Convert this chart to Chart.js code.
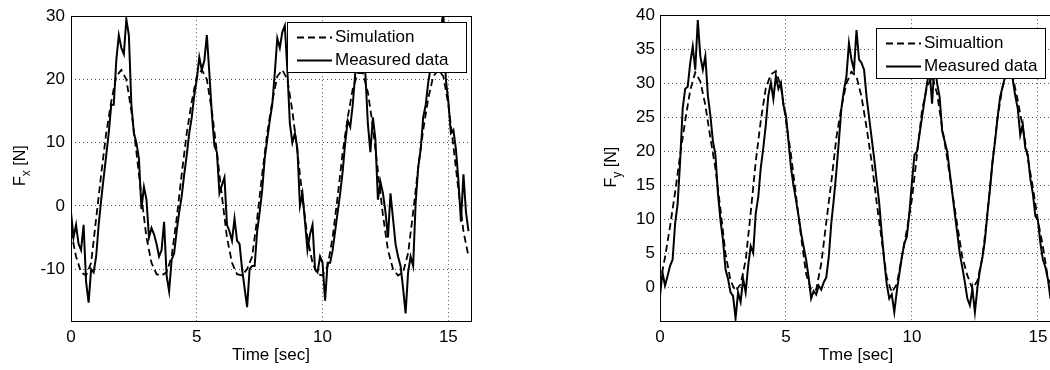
<!DOCTYPE html>
<html>
<head>
<meta charset="utf-8">
<script src="https://cdn.jsdelivr.net/npm/chart.js@4.4.0/dist/chart.umd.min.js"></script>
<style>
  html, body { margin: 0; padding: 0; background: #fff; overflow: hidden; }
  body { width: 1050px; height: 370px; position: relative; }
  .panel { position: absolute; top: 0; }
  #left { left: 0; }
  #right { left: 590px; }
</style>
</head>
<body>
<div class="panel" id="left"><canvas id="fx" width="490" height="370"></canvas></div>
<div class="panel" id="right"><canvas id="fy" width="480" height="370"></canvas></div>
<script>
// ─── data ──────────────────────────────────────
const simStep = 0.2;   // sec between simulation samples
const measStep = 0.1;  // sec between measured samples

const xTicks = [0, 5, 10, 15];
const fxTicks = [-10, 0, 10, 20, 30];
const fyTicks = [0, 5, 10, 15, 20, 25, 30, 35, 40];

const fxSim = [
  -4, -8, -10.5, -11, -9, -2, 5, 11.5, 16.5, 20.5,
  21.5, 20, 15, 8.5, 1.5, -5, -9, -10.8, -11, -10.5,
  -8, -2, 5, 11.5, 16.5, 20.5, 21.5, 20, 15, 8.5,
  1.5, -5, -9, -10.8, -11, -10, -8, -2, 5, 11.5,
  16.5, 20.5, 21.5, 20, 15, 8.5, 1.5, -5, -9, -10.8,
  -11, -9.5, -5, 1.5, 8.5, 14, 18.5, 21, 21, 18,
  12.5, 5.5, -1.5, -7, -10, -11, -10.5, -7.5, -1, 6,
  12, 17, 20.5, 21.5, 20.5, 16, 9.5, 2.5, -4, -8
];

const fxMeas = [
  -1, -5, -3, -6, -7, -3, -12, -15.3, -10, -10.5,
  -8, -3, 1, 4.5, 8, 11.5, 16, 16, 23, 27,
  25, 24, 29.5, 27, 16, 11.5, 10, 7.5, -0.5, 3,
  1, -5, -3.5, -4.5, -6, -8, -7, -2.5, -11, -13.5,
  -8.5, -7.5, -4, -1, 1.5, 5, 8, 11.5, 14, 17.5,
  20, 23.5, 21.5, 23, 27, 21, 14.5, 9.5, 8.5, 2,
  3.3, 4.5, -3, -4, -5.5, -2, -5.5, -6, -10, -13,
  -16, -10, -9.5, -9.5, -4, -1, 2.5, 7.5, 10.5, 13.5,
  16, 21, 26.5, 25, 27.5, 28.5, 21.5, 13, 10, 11.5,
  9, 0, 2, -2.5, -7, -4.5, -3, -10, -10.5, -8,
  -9, -15, -9, -9, -7, -4, -1, 2, 5.5, 10,
  13.5, 12.5, 16, 21, 25, 26, 28, 21, 13, 8.5,
  14, 10.5, 1, 3.8, 2, -1, -5, 2, -2, -6,
  -8, -9.5, -13, -17, -10.5, -8, -9.5, 0.5, 6, 9,
  14, 16, 19.5, 22, 24.5, 25.5, 27, 28, 30.5, 20,
  16.5, 11.5, 12, 9, 4, -2.5, 5, -1, -4
];

const fySim = [
  0.5, 4.5, 9, 14, 19.5, 24.5, 29, 31.6, 30.3, 26.8,
  22, 17.5, 11.5, 5, 1, -0.5, 0.5, 4, 11, 18.5,
  24.5, 29.3, 31.3, 31.8, 29.5, 24.5, 19.5, 13.5, 7.5, 2,
  -0.3, -0.3, 3.5, 9.6, 15.5, 22, 26.5, 30, 31.7, 31,
  28, 23.5, 18.5, 12.5, 7, 1.5, -0.7, 0.5, 4.5, 8.5,
  13, 19.5, 26, 29.5, 31, 28.5, 23.5, 19, 14, 9.2,
  4.5, 1.8, -0.2, 1, 4.5, 11, 18.5, 25, 29.5, 31.7,
  31, 27.5, 23.5, 19, 14.7, 9.9, 6, 1.3, 0
];

const fyMeas = [
  -1.2, 2.2, 0.3, 1.7, 3.2, 4.1, 9.4, 12.3, 18.6, 26.3,
  29.2, 29.5, 33, 35.4, 32, 39.3, 34, 32, 34, 28.2,
  25.3, 21.5, 19.5, 13.8, 9.9, 7, 2.7, 1.3, -0.7, -1.2,
  -4.5, -0.7, -2.1, 1.3, -0.7, 3.2, 6.1, 5.1, 10.9, 13.3,
  17.6, 20.5, 23.9, 28.2, 30.1, 27.7, 31.1, 29.2, 30.1, 26.8,
  25.3, 21.5, 17.6, 15, 12.8, 10.5, 8, 6, 4.1, 1.5,
  -1.6, -0.5, -1, 0.3, -0.3, 0.8, 1.5, 4.5, 9.5, 13,
  17, 21.5, 26.3, 29, 31, 35.9, 33.5, 32, 37.8, 33.5,
  33, 32, 28, 25, 22, 19, 15.7, 12.5, 8, 4,
  0.5, -1.6, -1, -3.6, -0.5, 2, 4.5, 6.5, 7.5, 11,
  15.5, 19.5, 20, 22.5, 25, 27.5, 30, 32, 27, 33,
  30, 28, 23, 21.5, 20, 17, 14, 10.9, 8, 5,
  3, 0.8, -1.6, -2.6, -0.2, -3.6, 0, 2.5, 4.5, 7,
  11, 14.5, 18.5, 21.5, 25, 28, 29.5, 31, 33, 32,
  30.6, 28.2, 26.3, 22.4, 24, 20.5, 19.5, 16, 13.8, 10.5,
  9.9, 6.5, 4.1, 3, 1.2, -1.6
];

// ─── helpers ─────────────────────────────
const FONT = "'Liberation Sans', Arial, sans-serif";

function toPoints(step, vals) {
  return vals.map((v, i) => ({ x: Math.round(i * step * 100) / 100, y: v }));
}

// box round the plot, F_x / F_y label with subscript, legend with frame
const matlabLook = {
  id: "matlabLook",
  afterDraw(chart, args, o) {
    const { ctx, chartArea: a } = chart;
    ctx.save();
    ctx.strokeStyle = "#000";
    ctx.lineWidth = 1;
    ctx.setLineDash([]);
    ctx.strokeRect(Math.round(a.left) + 0.5, Math.round(a.top) + 0.5,
                   Math.round(a.right - a.left), Math.round(a.bottom - a.top));

    // y label
    ctx.save();
    ctx.translate(a.left - o.labelX, (a.top + a.bottom) / 2 + o.labelDy);
    ctx.rotate(-Math.PI / 2);
    ctx.fillStyle = "#000";
    ctx.textBaseline = "alphabetic";
    ctx.textAlign = "left";
    ctx.font = `16px ${FONT}`;
    const wF = ctx.measureText("F").width;
    const wN = ctx.measureText(" [N]").width;
    ctx.font = `12px ${FONT}`;
    const wS = ctx.measureText(o.sub).width;
    let x0 = -(wF + wS + wN) / 2;
    ctx.font = `16px ${FONT}`;
    ctx.fillText("F", x0, 0);
    ctx.font = `12px ${FONT}`;
    ctx.fillText(o.sub, x0 + wF, 5);
    ctx.font = `16px ${FONT}`;
    ctx.fillText(" [N]", x0 + wF + wS, 0);
    ctx.restore();

    // legend
    const lx = Math.round(a.right + o.legendX), ly = Math.round(a.top + o.legendY);
    ctx.fillStyle = "#fff";
    ctx.fillRect(lx, ly, o.legendW, o.legendH);
    ctx.strokeRect(lx + 0.5, ly + 0.5, o.legendW, o.legendH);
    ctx.font = `17px ${FONT}`;
    ctx.textBaseline = "middle";
    ctx.textAlign = "left";
    const order = [1, 0]; // simulation first, as in the original
    order.forEach((di, row) => {
      const ds = chart.data.datasets[di];
      const y = ly + 15 + row * 23;
      ctx.beginPath();
      ctx.lineWidth = ds.borderWidth;
      ctx.setLineDash(ds.borderDash || []);
      ctx.moveTo(lx + 10, y + 0.5);
      ctx.lineTo(lx + 45, y + 0.5);
      ctx.stroke();
      ctx.setLineDash([]);
      ctx.fillStyle = "#000";
      ctx.fillText(ds.label, lx + 48, y);
    });
    ctx.restore();
  }
};

function makeChart(id, cfg) {
  const tickFont = { family: FONT, size: 17 };
  return new Chart(document.getElementById(id), {
    type: "line",
    data: {
      datasets: [
        {
          label: "Measured data",
          data: toPoints(measStep, cfg.meas),
          borderColor: "#000",
          borderWidth: 2,
          pointRadius: 0,
          tension: 0,
          order: 0
        },
        {
          label: cfg.simLabel,
          data: toPoints(simStep, cfg.sim),
          borderColor: "#000",
          borderWidth: 1.8,
          borderDash: [7, 4],
          pointRadius: 0,
          tension: 0,
          order: 1
        }
      ]
    },
    options: {
      responsive: false,
      animation: false,
      events: [],
      layout: { padding: { top: cfg.padTop, right: cfg.padRight, bottom: 0, left: 0 } },
      scales: {
        x: {
          type: "linear",
          min: 0,
          max: cfg.xMax,
          afterBuildTicks: s => { s.ticks = xTicks.map(v => ({ value: v })); },
          ticks: { font: tickFont, color: "#000", padding: 6, maxRotation: 0, autoSkip: false },
          grid: { color: "#555", lineWidth: 1, drawTicks: false },
          border: { display: false, dash: [1, 3] },
          title: { display: true, text: cfg.xTitle, color: "#000",
                   font: { family: FONT, size: 17 }, padding: { top: 0, bottom: 4 } },
          afterFit: s => { s.height = 49; }
        },
        y: {
          min: cfg.yMin,
          max: cfg.yMax,
          afterBuildTicks: s => { s.ticks = cfg.yTicks.map(v => ({ value: v })); },
          ticks: { font: tickFont, color: "#000", padding: cfg.yPad, autoSkip: false },
          grid: { color: "#555", lineWidth: 1, drawTicks: false },
          border: { display: false, dash: [1, 3] },
          afterFit: s => { s.width = cfg.yWidth; }
        }
      },
      plugins: {
        legend: { display: false },
        tooltip: { enabled: false },
        matlabLook: cfg.look
      }
    },
    plugins: [matlabLook]
  });
}

// ─── draw both panels ─────────────────────────────
makeChart("fx", {
  sim: fxSim, meas: fxMeas, simLabel: "Simulation",
  xTitle: "Time [sec]", xMax: 15.9,
  yMin: -18.2, yMax: 30, yTicks: fxTicks, yWidth: 71, yPad: 6,
  padTop: 15, padRight: 19,
  look: { sub: "x", labelX: 46, labelDy: -3, legendX: -184, legendY: 6, legendW: 179, legendH: 50 }
});

makeChart("fy", {
  sim: fySim, meas: fyMeas, simLabel: "Simualtion",
  xTitle: "Tme [sec]", xMax: 15.56,
  yMin: -4.9, yMax: 40, yTicks: fyTicks, yWidth: 70, yPad: 5,
  padTop: 10, padRight: 18,
  look: { sub: "y", labelX: 44, labelDy: -1, legendX: -176, legendY: 13, legendW: 169, legendH: 50 }
});
</script>
</body>
</html>
